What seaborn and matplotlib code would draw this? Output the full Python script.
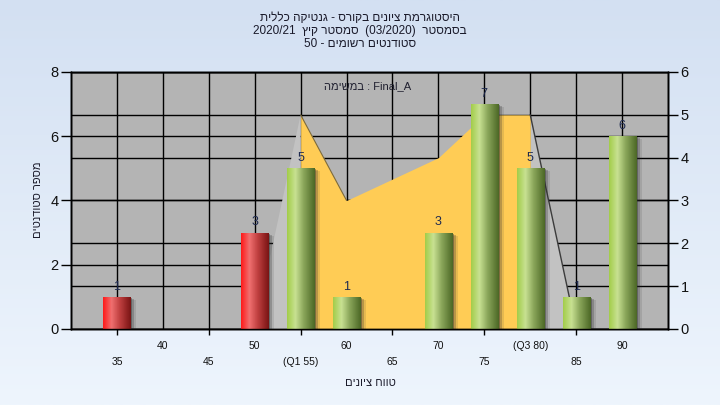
import re
import numpy as np
import pandas as pd
import matplotlib
matplotlib.use("Agg")
import matplotlib.pyplot as plt
import matplotlib.transforms as mtransforms
from matplotlib.colors import LinearSegmentedColormap
from matplotlib.patches import Rectangle
import seaborn as sns

# ---------------- data ----------------
grades = [35, 50, 55, 60, 70, 75, 80, 85, 90]
counts = [1, 3, 5, 1, 3, 7, 5, 1, 6]
curve_x = [50, 55, 60, 70, 75, 80, 85]
curve_y = [0, 5, 3, 4, 5, 5, 0]
q1, q3 = 55, 80
pass_grade = 55
upper_ticks = [40, 50, 60, 70, 80, 90]
upper_labels = ["40", "50", "60", "70", "(Q3 80)", "90"]
lower_ticks = [35, 45, 55, 65, 75, 85]
lower_labels = ["35", "45", "(Q1 55)", "65", "75", "85"]
left_ticks = [0, 2, 4, 6, 8]
right_ticks = [0, 1, 2, 3, 4, 5, 6]
title_lines = ["היסטוגרמת ציונים בקורס - גנטיקה כללית",
               "בסמסטר  (03/2020)  סמסטר קיץ  2020/21",
               "סטודנטים רשומים - 50"]
legend_text = "Final_A : במשימה"
x_label = "טווח ציונים"
y_label = "מספר סטודנטים"


def visual(s):
    """Right-to-left paragraph -> visual (left-to-right) order."""
    tokens = re.findall(r"[A-Za-z0-9_]+(?:[/.:][A-Za-z0-9_]+)*|.", s)
    mirror = {"(": ")", ")": "("}
    return "".join(mirror.get(t, t) for t in reversed(tokens))


sns.set_theme(style="white")
plt.rcParams["font.family"] = ["Liberation Sans", "DejaVu Sans"]

fig = plt.figure(figsize=(7.2, 4.05), dpi=100)

# background gradient
bg = fig.add_axes([0, 0, 1, 1], zorder=-10)
grad = np.linspace(0, 1, 256).reshape(-1, 1)
bg_cmap = LinearSegmentedColormap.from_list("bg", ["#D3E0F2", "#EEF5FD"])
bg.imshow(grad, aspect="auto", cmap=bg_cmap, extent=[0, 1, 0, 1])
bg.axis("off")

ax = fig.add_axes([0.0986, 0.1877, 0.8292, 0.6346], zorder=1)
ax.set_facecolor("#B4B4B4")
ax2 = ax.twinx()
ax2.set_zorder(2)
ax2.patch.set_visible(False)
ax3 = ax.twinx()
ax3.set_zorder(3)
ax3.patch.set_visible(False)

# ---------------- area (right axis) ----------------
cx = np.array(curve_x)
cy = np.array(curve_y)
inside = (cx >= q1) & (cx <= q3)
outside = (cx <= q1) | (cx >= q3)
ax2.fill_between(cx, cy, where=outside, color="#C2C2C2", lw=0, zorder=1)
ax2.fill_between(cx, cy, where=inside, color="#FFCC55", lw=0, zorder=1.1)
right_seg = pd.DataFrame({"x": cx[cx >= q3], "y": cy[cx >= q3]})
sns.lineplot(data=right_seg, x="x", y="y", ax=ax2, color="#3C3C3C", lw=1.0, zorder=1.2)
left_seg = pd.DataFrame({"x": cx[(cx >= q1) & (cx <= 60)], "y": cy[(cx >= q1) & (cx <= 60)]})
sns.lineplot(data=left_seg, x="x", y="y", ax=ax2, color="#7A6A40", lw=0.8, zorder=1.2)

# ---------------- bars (left scale) ----------------
df = pd.DataFrame({"grade": grades, "count": counts})
df["group"] = np.where(df["grade"] < pass_grade, "fail", "pass")
sns.barplot(data=df, x="grade", y="count", hue="group", native_scale=True,
            palette={"fail": "#E03030", "pass": "#98BE50"}, dodge=False,
            width=0.59, ax=ax3, legend=False, linewidth=0, zorder=2)

red_cmap = LinearSegmentedColormap.from_list(
    "red", [(0, "#FF1A1A"), (0.3, "#F07070"), (0.6, "#C04040"), (1, "#7A1414")])
green_cmap = LinearSegmentedColormap.from_list(
    "green", [(0, "#A3CD4A"), (0.3, "#C8E192"), (0.6, "#8AA65A"), (1, "#4C6826")])
hgrad = np.linspace(0, 1, 64).reshape(1, -1)
for p in list(ax3.patches):
    x0, w, h = p.get_x(), p.get_width(), p.get_height()
    if h <= 0:
        continue
    cmap = red_cmap if x0 + w / 2 < pass_grade else green_cmap
    # soft shadow
    for i, a in zip([2, 4, 6], [0.4, 0.25, 0.12]):
        tr = mtransforms.offset_copy(ax3.transData, fig=fig, x=i, y=-i / 2, units="dots")
        ax3.add_patch(Rectangle((x0, 0), w, h, transform=tr, color="#303030",
                                alpha=a, lw=0, zorder=1.5))
    im = ax3.imshow(hgrad, cmap=cmap, aspect="auto", extent=[x0, x0 + w, 0, h],
                    zorder=2.5, interpolation="bilinear")
    im.set_clip_path(p)

for cont in ax3.containers:
    ax3.bar_label(cont, fmt="%d", padding=3, fontsize=9, color="#1E2A50")

ax3.text(0.497, 0.945, visual(legend_text), transform=ax3.transAxes,
         ha="center", va="center", fontsize=8, color="#202030")

# ---------------- axes, ticks, grid ----------------
for a in (ax, ax2, ax3):
    a.set_xlim(30, 95)
ax.set_ylim(0, 8)
ax3.set_ylim(0, 8)
ax2.set_ylim(0, 6)

ax.set_xticks(upper_ticks)
ax.set_xticklabels(upper_labels)
ax.set_xticks(lower_ticks, minor=True)
ax.set_xticklabels(lower_labels, minor=True)
ax.set_yticks(left_ticks)
ax2.set_yticks(right_ticks)
ax3.yaxis.set_visible(False)

ax.grid(True, which="both", axis="x", color="black", lw=1.0)
ax.grid(True, which="major", axis="y", color="black", lw=1.0)
ax2.grid(True, axis="y", color="black", lw=1.0)
ax2.set_axisbelow(True)

ax.tick_params(axis="x", which="major", length=4, width=1, pad=5,
               labelsize=7.5, color="black", labelcolor="#111111")
ax.tick_params(axis="x", which="minor", length=4, width=1, pad=16,
               labelsize=7.5, color="black", labelcolor="#111111", bottom=True)
ax.tick_params(axis="y", length=7, width=1, pad=2, labelsize=10.5,
               color="black", labelcolor="#111111", left=True)
ax2.tick_params(axis="y", length=7, width=1, pad=2, labelsize=10.5,
                color="black", labelcolor="#111111", right=True)
for a in (ax, ax2, ax3):
    for s in a.spines.values():
        s.set_color("black")
        s.set_linewidth(1.0)
ax.set_xlabel("")
ax.set_ylabel("")
ax2.set_ylabel("")
ax3.set_xlabel("")
ax3.set_ylabel("")

# ---------------- texts ----------------
for i, line in enumerate(title_lines):
    fig.text(0.5, 1 - (18 + 13 * i) / 405, visual(line), ha="center", va="center",
             fontsize=8.5, color="#1A1A2A")
fig.text(370 / 720, 1 - 383 / 405, visual(x_label), ha="center", va="center",
         fontsize=8, color="#1A1A2A")
fig.text(38 / 720, 1 - 200 / 405, visual(y_label), ha="center", va="center",
         rotation=90, fontsize=8, color="#1A1A2A")

fig.savefig("out.png", dpi=100)
